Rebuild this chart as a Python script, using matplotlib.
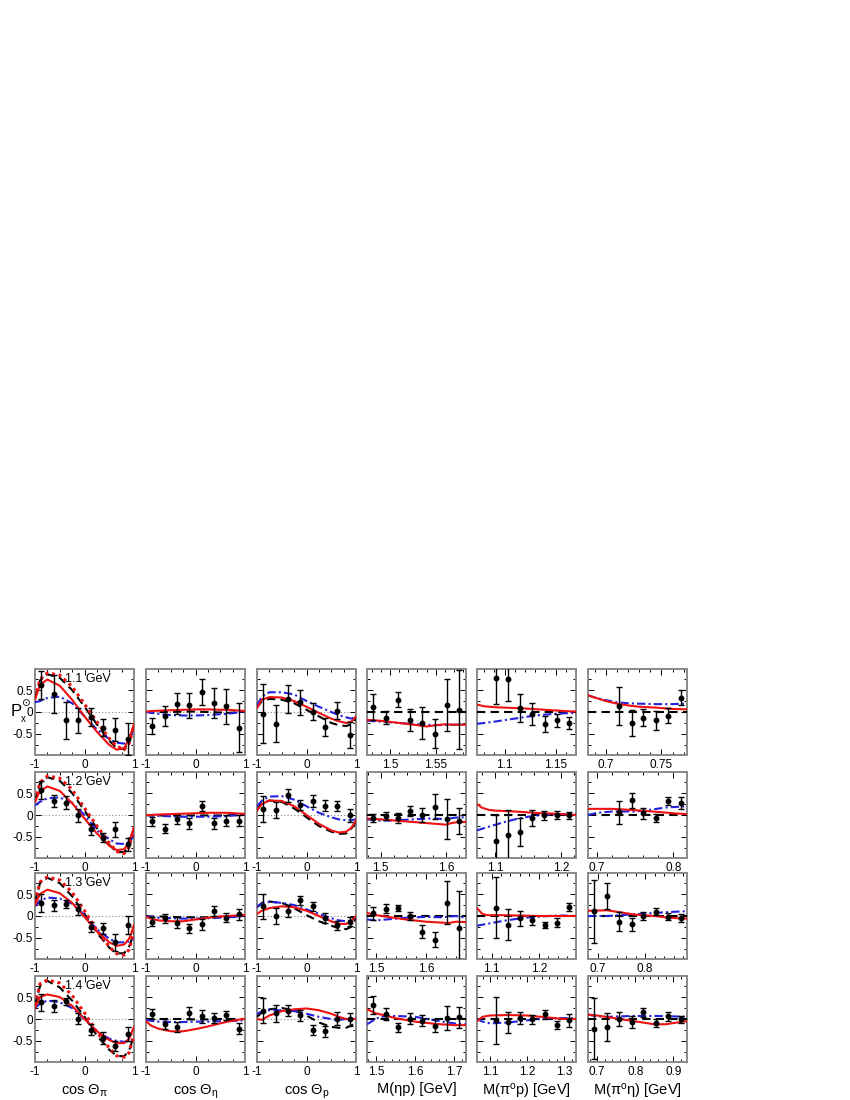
import numpy as np
import matplotlib
matplotlib.use('Agg')
import matplotlib.pyplot as plt
from matplotlib.ticker import MultipleLocator, FuncFormatter

plt.rcParams['font.family'] = ['Liberation Sans', 'DejaVu Sans']
plt.rcParams['mathtext.fontset'] = 'custom'
plt.rcParams['mathtext.rm'] = 'Liberation Sans'
plt.rcParams['mathtext.it'] = 'Liberation Sans'

energies = ['1.1 GeV', '1.2 GeV', '1.3 GeV', '1.4 GeV']

# ---- angular columns: data bins and model grid ----
cos_bins = [-0.875, -0.625, -0.375, -0.125, 0.125, 0.375, 0.625, 0.875]
cos_grid = [-1, -0.9, -0.75, -0.5, -0.25, 0, 0.25, 0.5, 0.65, 0.8, 0.9, 0.95, 1]

# cos theta_pi
pi_y = [[0.61, 0.41, -0.19, -0.19, -0.11, -0.36, -0.40, -0.62],
        [0.57, 0.32, 0.28, -0.01, -0.33, -0.52, -0.33, -0.67],
        [0.30, 0.24, 0.28, 0.15, -0.25, -0.28, -0.60, -0.21],
        [0.38, 0.30, 0.40, 0.01, -0.24, -0.43, -0.61, -0.34]]
pi_err = [[0.32, 0.44, 0.42, 0.29, 0.20, 0.19, 0.27, 0.36],
          [0.20, 0.14, 0.15, 0.14, 0.12, 0.10, 0.18, 0.14],
          [0.21, 0.12, 0.09, 0.12, 0.12, 0.13, 0.20, 0.21],
          [0.20, 0.14, 0.09, 0.12, 0.12, 0.13, 0.12, 0.16]]
pi_red = [[0.28, 0.62, 0.74, 0.60, 0.28, -0.10, -0.45, -0.75, -0.86, -0.82, -0.62, -0.45, -0.28],
          [0.30, 0.55, 0.65, 0.55, 0.27, -0.08, -0.42, -0.70, -0.80, -0.78, -0.62, -0.45, -0.28],
          [0.25, 0.50, 0.60, 0.52, 0.30, -0.02, -0.35, -0.60, -0.68, -0.65, -0.52, -0.38, -0.20],
          [0.25, 0.50, 0.56, 0.50, 0.30, 0.00, -0.28, -0.48, -0.55, -0.55, -0.45, -0.32, -0.18]]
pi_black = [[0.30, 0.72, 0.86, 0.78, 0.50, 0.12, -0.28, -0.65, -0.82, -0.85, -0.68, -0.50, -0.30],
            [0.30, 0.72, 0.86, 0.78, 0.50, 0.10, -0.30, -0.68, -0.84, -0.85, -0.70, -0.50, -0.30],
            [0.30, 0.75, 0.87, 0.75, 0.45, 0.05, -0.38, -0.72, -0.85, -0.85, -0.70, -0.55, -0.40],
            [0.30, 0.75, 0.87, 0.72, 0.42, 0.05, -0.38, -0.70, -0.84, -0.85, -0.72, -0.55, -0.40]]
pi_dot = [[0.32, 0.74, 0.89, 0.84, 0.58, 0.18, -0.22, -0.60, -0.78, -0.86, -0.72, -0.52, -0.30],
          [0.32, 0.74, 0.89, 0.84, 0.58, 0.16, -0.25, -0.64, -0.83, -0.88, -0.74, -0.52, -0.30],
          [0.32, 0.77, 0.89, 0.82, 0.54, 0.12, -0.32, -0.70, -0.86, -0.89, -0.77, -0.56, -0.35],
          [0.32, 0.80, 0.89, 0.82, 0.54, 0.14, -0.30, -0.66, -0.84, -0.87, -0.77, -0.56, -0.35]]
pi_blue = [[0.22, 0.25, 0.32, 0.35, 0.20, -0.10, -0.40, -0.62, -0.70, -0.72, -0.62, -0.50, -0.35],
           [0.22, 0.30, 0.38, 0.40, 0.28, 0.00, -0.35, -0.55, -0.65, -0.66, -0.62, -0.55, -0.45],
           [0.22, 0.35, 0.42, 0.40, 0.28, 0.02, -0.30, -0.52, -0.60, -0.60, -0.58, -0.55, -0.50],
           [0.25, 0.35, 0.42, 0.38, 0.25, 0.00, -0.28, -0.45, -0.50, -0.52, -0.50, -0.48, -0.45]]

# cos theta_eta
eta_y = [[-0.32, -0.10, 0.19, 0.15, 0.46, 0.20, 0.13, -0.36],
         [-0.14, -0.31, -0.10, -0.19, 0.21, -0.19, -0.13, -0.13],
         [-0.13, -0.05, -0.15, -0.28, -0.19, 0.11, -0.04, 0.04],
         [0.11, -0.11, -0.18, 0.13, 0.06, 0.02, 0.08, -0.22]]
eta_err = [[0.19, 0.23, 0.24, 0.28, 0.29, 0.34, 0.40, 0.56],
           [0.10, 0.10, 0.10, 0.12, 0.12, 0.12, 0.12, 0.12],
           [0.10, 0.10, 0.12, 0.10, 0.12, 0.11, 0.10, 0.12],
           [0.12, 0.12, 0.12, 0.14, 0.14, 0.12, 0.10, 0.12]]
eta_red = [[0.01, 0.02, 0.03, 0.04, 0.05, 0.06, 0.06, 0.05, 0.05, 0.04, 0.03, 0.03, 0.02],
           [0.00, 0.00, 0.01, 0.02, 0.03, 0.04, 0.05, 0.05, 0.05, 0.04, 0.03, 0.03, 0.02],
           [-0.02, -0.06, -0.10, -0.12, -0.12, -0.08, -0.04, -0.01, 0.00, 0.01, 0.02, 0.02, 0.02],
           [-0.05, -0.15, -0.22, -0.28, -0.28, -0.23, -0.17, -0.10, -0.06, -0.03, -0.01, 0.00, 0.00]]
eta_black = [[0.00, 0.00, 0.00, 0.00, 0.01, 0.01, 0.00, -0.01, -0.02, -0.01, 0.00, 0.01, 0.02],
             [0.00, -0.01, -0.01, -0.01, -0.01, -0.01, -0.01, -0.01, -0.01, 0.00, 0.00, 0.01, 0.01],
             [0.00, -0.01, -0.01, -0.02, -0.03, -0.03, -0.03, -0.02, -0.02, -0.01, 0.00, 0.00, 0.00],
             [0.00, 0.00, 0.00, 0.00, 0.00, -0.01, -0.01, 0.00, 0.00, 0.00, 0.00, 0.00, 0.00]]
eta_blue = [[0.00, -0.02, -0.04, -0.07, -0.08, -0.08, -0.07, -0.05, -0.04, -0.02, 0.00, 0.01, 0.02],
            [0.00, -0.01, -0.02, -0.03, -0.04, -0.04, -0.04, -0.03, -0.02, -0.01, 0.00, 0.01, 0.02],
            [-0.01, -0.03, -0.04, -0.05, -0.06, -0.06, -0.05, -0.04, -0.03, -0.02, -0.01, 0.00, 0.00],
            [-0.02, -0.04, -0.06, -0.07, -0.07, -0.06, -0.06, -0.05, -0.05, -0.04, -0.04, -0.03, -0.03]]

# cos theta_p
prot_y = [[-0.04, -0.27, 0.30, 0.22, 0.01, -0.34, 0.03, -0.52],
          [0.13, 0.12, 0.45, 0.23, 0.32, 0.21, 0.21, -0.01],
          [0.22, 0.00, 0.11, 0.36, 0.22, -0.05, -0.21, -0.13],
          [0.19, 0.13, 0.19, 0.08, -0.25, -0.28, 0.01, -0.01]]
prot_err = [[0.67, 0.42, 0.32, 0.29, 0.19, 0.21, 0.19, 0.30],
            [0.30, 0.18, 0.15, 0.12, 0.13, 0.13, 0.11, 0.15],
            [0.29, 0.19, 0.14, 0.10, 0.11, 0.11, 0.10, 0.10],
            [0.28, 0.20, 0.13, 0.12, 0.12, 0.13, 0.15, 0.14]]
prot_red = [[0.10, 0.28, 0.34, 0.33, 0.25, 0.12, -0.02, -0.15, -0.21, -0.25, -0.22, -0.17, -0.10],
            [0.10, 0.25, 0.33, 0.32, 0.20, 0.00, -0.20, -0.35, -0.40, -0.38, -0.30, -0.22, -0.12],
            [0.05, 0.12, 0.18, 0.22, 0.20, 0.12, 0.00, -0.12, -0.18, -0.18, -0.12, -0.06, 0.00],
            [0.00, -0.02, 0.08, 0.18, 0.22, 0.24, 0.20, 0.12, 0.05, 0.00, 0.00, 0.00, 0.00]]
prot_black = [[0.10, 0.25, 0.30, 0.28, 0.20, 0.05, -0.10, -0.25, -0.30, -0.32, -0.28, -0.22, -0.15],
              [0.12, 0.28, 0.33, 0.30, 0.15, -0.05, -0.25, -0.38, -0.43, -0.42, -0.32, -0.24, -0.15],
              [0.20, 0.30, 0.33, 0.30, 0.18, 0.02, -0.12, -0.22, -0.28, -0.30, -0.25, -0.15, -0.05],
              [0.05, 0.15, 0.22, 0.25, 0.20, 0.08, -0.08, -0.18, -0.20, -0.20, -0.15, -0.12, -0.10]]
prot_blue = [[0.15, 0.35, 0.45, 0.45, 0.40, 0.25, 0.12, 0.00, -0.07, -0.12, -0.15, -0.13, -0.10],
             [0.20, 0.33, 0.42, 0.43, 0.35, 0.20, 0.05, -0.05, -0.10, -0.12, -0.12, -0.11, -0.10],
             [0.22, 0.28, 0.32, 0.30, 0.25, 0.15, 0.05, -0.05, -0.10, -0.12, -0.10, -0.06, -0.02],
             [0.12, 0.17, 0.20, 0.20, 0.18, 0.12, 0.05, 0.00, -0.02, 0.00, 0.02, 0.02, 0.02]]

# ---- mass columns ----
etap_lim = [(1.475, 1.583), (1.479, 1.631), (1.482, 1.68), (1.477, 1.73)]
etap_x = [[1.482, 1.4955, 1.5085, 1.522, 1.5353, 1.549, 1.562, 1.5757],
          [1.4887, 1.5077, 1.5261, 1.545, 1.5639, 1.5834, 1.6013, 1.6207],
          [1.4946, 1.5194, 1.5434, 1.568, 1.5926, 1.618, 1.6414, 1.6666],
          [1.4931, 1.5248, 1.5555, 1.5869, 1.6183, 1.6508, 1.6807, 1.7129]]
etap_y = [[0.11, -0.13, 0.28, -0.19, -0.25, -0.49, 0.16, 0.05],
          [-0.07, -0.03, -0.07, 0.09, 0.00, 0.19, -0.09, -0.14],
          [0.06, 0.17, 0.19, 0.01, -0.36, -0.54, 0.30, -0.28],
          [0.32, 0.11, -0.19, 0.01, -0.04, -0.15, 0.02, 0.04]]
etap_err = [[0.29, 0.15, 0.17, 0.25, 0.37, 0.34, 0.60, 0.90],
            [0.09, 0.09, 0.11, 0.12, 0.17, 0.29, 0.45, 0.30],
            [0.14, 0.10, 0.07, 0.09, 0.15, 0.17, 0.49, 0.85],
            [0.21, 0.13, 0.11, 0.13, 0.13, 0.14, 0.27, 0.24]]
etap_red_x = [[1.475, 1.49, 1.51, 1.53, 1.54, 1.55, 1.56, 1.57, 1.583],
              [1.479, 1.5, 1.525, 1.55, 1.575, 1.6, 1.61, 1.62, 1.631],
              [1.482, 1.5, 1.53, 1.56, 1.6, 1.63, 1.645, 1.66, 1.68],
              [1.477, 1.5, 1.55, 1.6, 1.65, 1.7, 1.73]]
etap_red = [[-0.18, -0.20, -0.25, -0.30, -0.33, -0.30, -0.28, -0.29, -0.29],
            [-0.08, -0.10, -0.13, -0.16, -0.19, -0.22, -0.18, -0.16, -0.16],
            [0.07, 0.02, -0.03, -0.08, -0.13, -0.15, -0.16, -0.13, -0.14],
            [0.22, 0.13, 0.02, -0.06, -0.11, -0.14, -0.14]]
etap_blue_x = [[1.475, 1.49, 1.51, 1.53, 1.55, 1.57, 1.583],
               [1.479, 1.5, 1.525, 1.55, 1.575, 1.6, 1.615, 1.631],
               [1.482, 1.5, 1.53, 1.56, 1.6, 1.63, 1.66, 1.68],
               [1.477, 1.49, 1.51, 1.55, 1.6, 1.65, 1.7, 1.73]]
etap_blue = [[-0.20, -0.22, -0.25, -0.28, -0.30, -0.29, -0.28],
             [-0.10, -0.13, -0.12, -0.10, -0.08, -0.09, -0.06, -0.05],
             [-0.08, -0.10, -0.07, -0.04, -0.02, -0.03, 0.00, -0.04],
             [-0.12, -0.05, 0.05, 0.07, 0.05, -0.03, -0.10, -0.12]]

pi0p_lim = [(1.073, 1.17), (1.073, 1.223), (1.069, 1.279), (1.065, 1.332)]
pi0p_x = [[1.0914, 1.1034, 1.1154, 1.127, 1.1393, 1.1513, 1.1632],
          [1.1015, 1.1195, 1.138, 1.156, 1.175, 1.1935, 1.212],
          [1.1089, 1.1347, 1.1608, 1.186, 1.2124, 1.2385, 1.2643],
          [1.1157, 1.1486, 1.1817, 1.2137, 1.2474, 1.2805, 1.3133]]
pi0p_y = [[0.78, 0.75, 0.09, -0.04, -0.27, -0.19, -0.25],
          [-0.60, -0.46, -0.39, -0.07, -0.01, -0.01, -0.01],
          [0.19, -0.20, -0.05, -0.10, -0.21, -0.15, 0.20],
          [-0.03, -0.07, 0.02, -0.01, 0.11, -0.14, -0.03]]
pi0p_err = [[0.60, 0.50, 0.32, 0.25, 0.19, 0.15, 0.14],
            [0.59, 0.57, 0.32, 0.18, 0.11, 0.09, 0.08],
            [0.70, 0.35, 0.17, 0.10, 0.07, 0.10, 0.09],
            [0.53, 0.24, 0.14, 0.11, 0.10, 0.09, 0.15]]
pi0p_red_x = [[1.073, 1.08, 1.09, 1.1, 1.12, 1.14, 1.16, 1.17],
              [1.073, 1.08, 1.09, 1.1, 1.13, 1.16, 1.19, 1.223],
              [1.069, 1.08, 1.09, 1.12, 1.16, 1.2, 1.279],
              [1.065, 1.08, 1.1, 1.15, 1.2, 1.25, 1.3, 1.332]]
pi0p_red = [[0.17, 0.13, 0.11, 0.10, 0.08, 0.05, 0.02, 0.01],
            [0.25, 0.17, 0.12, 0.10, 0.08, 0.05, 0.03, 0.00],
            [0.18, 0.05, 0.02, 0.02, 0.01, 0.00, 0.00],
            [-0.05, 0.05, 0.08, 0.09, 0.08, 0.04, 0.00, 0.00]]
pi0p_blue_x = [[1.073, 1.09, 1.11, 1.13, 1.15, 1.17],
               [1.073, 1.09, 1.11, 1.13, 1.15, 1.17, 1.2, 1.223],
               [1.069, 1.09, 1.12, 1.15, 1.18, 1.22, 1.25, 1.279],
               [1.065, 1.08, 1.1, 1.15, 1.2, 1.25, 1.3, 1.332]]
pi0p_blue = [[-0.27, -0.22, -0.15, -0.08, -0.04, -0.02],
             [-0.35, -0.27, -0.18, -0.10, -0.04, 0.00, 0.02, 0.02],
             [-0.22, -0.18, -0.12, -0.07, -0.03, 0.00, 0.01, 0.00],
             [0.00, -0.06, -0.10, -0.08, -0.03, 0.01, 0.02, 0.02]]

pi0eta_lim = [(0.684, 0.773), (0.688, 0.818), (0.68, 0.888), (0.676, 0.936)]
pi0eta_x = [[0.7119, 0.7233, 0.7337, 0.7451, 0.7562, 0.7673],
            [0.7287, 0.7454, 0.7606, 0.7773, 0.7935, 0.8097],
            [0.6926, 0.7193, 0.7451, 0.7718, 0.7962, 0.8229, 0.8487, 0.8748],
            [0.6918, 0.7251, 0.7574, 0.7908, 0.8212, 0.8546, 0.8869, 0.9195]]
pi0eta_y = [[0.14, -0.25, -0.13, -0.19, -0.08, 0.33],
            [0.06, 0.34, 0.04, -0.07, 0.32, 0.27],
            [0.11, 0.45, -0.13, -0.19, 0.00, 0.10, -0.02, -0.04],
            [-0.22, -0.19, 0.01, -0.07, 0.15, -0.10, 0.06, -0.01]]
pi0eta_err = [[0.44, 0.30, 0.19, 0.22, 0.18, 0.17],
              [0.26, 0.17, 0.12, 0.10, 0.10, 0.13],
              [0.72, 0.30, 0.21, 0.15, 0.10, 0.08, 0.08, 0.09],
              [0.70, 0.32, 0.16, 0.13, 0.11, 0.09, 0.10, 0.08]]
pi0eta_red_x = [[0.684, 0.69, 0.7, 0.71, 0.72, 0.73, 0.745, 0.76, 0.773],
                [0.688, 0.72, 0.75, 0.78, 0.8, 0.818],
                [0.68, 0.72, 0.75, 0.78, 0.82, 0.85, 0.888],
                [0.676, 0.7, 0.73, 0.76, 0.79, 0.82, 0.85, 0.88, 0.91, 0.936]]
pi0eta_red = [[0.38, 0.33, 0.25, 0.19, 0.15, 0.12, 0.10, 0.07, 0.06],
              [0.14, 0.14, 0.11, 0.07, 0.04, 0.02],
              [0.12, 0.13, 0.08, 0.03, 0.00, -0.04, -0.06],
              [0.10, 0.08, 0.04, 0.00, -0.04, -0.08, -0.12, -0.12, -0.08, -0.05]]
pi0eta_blue_x = [[0.684, 0.69, 0.7, 0.71, 0.72, 0.73, 0.745, 0.76, 0.773],
                 [0.688, 0.7, 0.72, 0.75, 0.77, 0.79, 0.818],
                 [0.68, 0.72, 0.75, 0.78, 0.82, 0.85, 0.888],
                 [0.676, 0.7, 0.73, 0.76, 0.8, 0.85, 0.9, 0.936]]
pi0eta_blue = [[0.38, 0.33, 0.27, 0.22, 0.20, 0.19, 0.18, 0.18, 0.19],
               [0.00, 0.05, 0.08, 0.08, 0.12, 0.17, 0.20],
               [0.00, 0.00, 0.02, 0.04, 0.07, 0.09, 0.11],
               [0.10, 0.06, 0.05, 0.06, 0.07, 0.07, 0.06, 0.05]]

xlabels = [r'cos $\Theta_{\pi}$', r'cos $\Theta_{\eta}$', r'cos $\Theta_{\rm p}$',
           'M(ηp) [GeV]', r'M(π$^{\rm o}$p) [GeV]', r'M(π$^{\rm o}$η) [GeV]']

RED = '#ee1111'
BLUE = '#2222dd'

col_left = [35, 146, 257, 367, 477, 588]
row_top = [669, 772, 873, 976]
W, H = 99, 86

fig = plt.figure(figsize=(8.5, 11), dpi=100)


def fmt(v, pos):
    s = ('%.2f' % v).rstrip('0').rstrip('.')
    return '0' if s in ('-0', '') else s


def style(ax, col, r):
    for sp in ax.spines.values():
        sp.set_color('#8a8a8a')
        sp.set_linewidth(1.4)
    ax.set_ylim(-0.98, 0.98)
    ax.yaxis.set_major_locator(MultipleLocator(0.5))
    ax.yaxis.set_minor_locator(MultipleLocator(0.25))
    if col < 3:
        ax.set_xlim(-1, 1)
        ax.xaxis.set_major_locator(MultipleLocator(1))
        ax.xaxis.set_minor_locator(MultipleLocator(0.25))
    else:
        if r == 0:
            ax.xaxis.set_major_locator(MultipleLocator(0.05))
            ax.xaxis.set_minor_locator(MultipleLocator(0.01))
        else:
            ax.xaxis.set_major_locator(MultipleLocator(0.1))
            ax.xaxis.set_minor_locator(MultipleLocator(0.02))
    ax.xaxis.set_major_formatter(FuncFormatter(fmt))
    ax.yaxis.set_major_formatter(FuncFormatter(fmt))
    ax.tick_params(which='both', direction='in', top=True, right=True,
                   labelsize=8.5, pad=3, width=0.7)
    ax.tick_params(axis='y', pad=1.5)
    ax.tick_params(which='major', length=4)
    ax.tick_params(which='minor', length=2)
    if col > 0:
        ax.tick_params(labelleft=False)


def points(ax, x, y, e):
    ax.errorbar(x, y, yerr=e, fmt='o', color='black', ms=3.2, elinewidth=1.0,
                capsize=2.2, capthick=1.0, zorder=5)


for r in range(4):
    for c in range(6):
        ax = fig.add_axes([col_left[c] / 850, 1 - (row_top[r] + H) / 1100, W / 850, H / 1100])
        style(ax, c, r)
        if c < 3:
            ax.axhline(0, color='#888888', ls=(0, (1, 2)), lw=0.8, zorder=1)
            if c == 0:
                ys, es, red, blk, blu = pi_y, pi_err, pi_red, pi_black, pi_blue
                ax.plot(cos_grid, pi_dot[r], color=RED, ls=(0, (1, 1.2)), lw=2.2, zorder=3.5)
            elif c == 1:
                ys, es, red, blk, blu = eta_y, eta_err, eta_red, eta_black, eta_blue
            else:
                ys, es, red, blk, blu = prot_y, prot_err, prot_red, prot_black, prot_blue
            ax.plot(cos_grid, blk[r], color='black', ls=(0, (4, 2.5)), lw=1.5, zorder=3)
            ax.plot(cos_grid, blu[r], color=BLUE, ls=(0, (4, 1.5, 1, 1.5)), lw=1.5, zorder=3)
            ax.plot(cos_grid, red[r], color=RED, lw=1.5, zorder=4)
            points(ax, cos_bins, ys[r], es[r])
        else:
            if c == 3:
                lim, xs, ys, es = etap_lim, etap_x, etap_y, etap_err
                rx, ry, bx, by = etap_red_x, etap_red, etap_blue_x, etap_blue
            elif c == 4:
                lim, xs, ys, es = pi0p_lim, pi0p_x, pi0p_y, pi0p_err
                rx, ry, bx, by = pi0p_red_x, pi0p_red, pi0p_blue_x, pi0p_blue
            else:
                lim, xs, ys, es = pi0eta_lim, pi0eta_x, pi0eta_y, pi0eta_err
                rx, ry, bx, by = pi0eta_red_x, pi0eta_red, pi0eta_blue_x, pi0eta_blue
            ax.set_xlim(*lim[r])
            ax.axhline(0, color='black', ls=(0, (4, 2.5)), lw=1.5, zorder=3)
            ax.plot(bx[r], by[r], color=BLUE, ls=(0, (4, 1.5, 1, 1.5)), lw=1.5, zorder=3)
            ax.plot(rx[r], ry[r], color=RED, lw=1.5, zorder=4)
            points(ax, xs[r], ys[r], es[r])
        if c == 0:
            ax.text(0.30, 0.88, energies[r], transform=ax.transAxes, fontsize=9,
                    ha='left', va='center', zorder=6)
        if r == 3:
            ax.set_xlabel(xlabels[c], fontsize=10.5, labelpad=3)

# y label P_x with circled-dot superscript, built from three small texts
fig.text(16 / 850, 1 - 711 / 1100, 'P', fontsize=12, ha='center', va='center')
fig.text(23.5 / 850, 1 - 719.5 / 1100, 'x', fontsize=7, ha='center', va='center')
fig.text(25 / 850, 1 - 703 / 1100, '\u2299', fontsize=7.5, ha='center', va='center',
         family=['DejaVu Sans'])

fig.savefig('out.png', dpi=100)
